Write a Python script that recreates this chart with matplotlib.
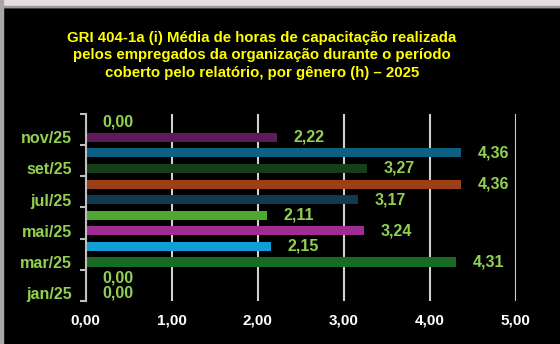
import matplotlib.pyplot as plt
from matplotlib.patches import Rectangle

plt.rcParams['font.family'] = ['Liberation Sans', 'DejaVu Sans']

meses = ['jan/25', 'fev/25', 'mar/25', 'abr/25', 'mai/25', 'jun/25',
         'jul/25', 'ago/25', 'set/25', 'out/25', 'nov/25', 'dez/25']
horas = [0.00, 0.00, 4.31, 2.15, 3.24, 2.11, 3.17, 4.36, 3.27, 4.36, 2.22, 0.00]
cores = ['#196B24', '#0F9ED5', '#196B24', '#0F9ED5', '#A02B93', '#4EA72E',
         '#113A51', '#9A3F16', '#153F1A', '#0B6083', '#5F1A5B', '#5F1A5B']
titulo = ('GRI 404-1a (i) Média de horas de capacitação realizada\n'
          'pelos empregados da organização durante o período\n'
          'coberto pelo relatório, por gênero (h) – 2025')

fig = plt.figure(figsize=(5.6, 3.44), dpi=100, facecolor='black')
ax = fig.add_axes([0.153, 0.125, 0.768, 0.544], facecolor='black')

# moldura clara no topo e à esquerda
fig.patches.append(Rectangle((0, 0.98), 1, 0.02, transform=fig.transFigure,
                             color='#E6DEDC', zorder=0))
fig.patches.append(Rectangle((0, 0.98), 1, 0.004, transform=fig.transFigure,
                             color='#9A9A9A', zorder=0))
fig.patches.append(Rectangle((0, 0), 0.006, 1, transform=fig.transFigure,
                             color='#A8A8A8', zorder=0))

y = list(range(len(meses)))
ax.barh(y, horas, height=0.58, color=cores, zorder=3)

for yi, v in zip(y, horas):
    ax.annotate(f'{v:.2f}'.replace('.', ','), (v, yi), xytext=(12, 0),
                textcoords='offset points', ha='left', va='center',
                color='#92D050', fontsize=11.5, fontweight='bold')

ax.set_xlim(0, 5)
ax.set_ylim(-0.5, len(meses) - 0.5)
ax.set_xticks([0, 1, 2, 3, 4, 5])
ax.set_xticklabels([f'{t:.2f}'.replace('.', ',') for t in range(6)],
                   color='white', fontsize=11, fontweight='bold')
ax.set_yticks(y[::2])
ax.set_yticklabels(meses[::2], color='#92D050', fontsize=11.6, fontweight='bold')
ax.set_yticks([i - 0.5 for i in range(0, len(meses) + 1, 2)], minor=True)
ax.tick_params(axis='y', which='major', length=0, pad=10)
ax.tick_params(axis='y', which='minor', length=4, width=1.5, color='#BFBFBF')
ax.tick_params(axis='x', length=0, pad=9)

ax.grid(axis='x', color='#D0D0D0', linewidth=1.5, zorder=1)
for s in ['top', 'right', 'bottom']:
    ax.spines[s].set_visible(False)
ax.spines['left'].set_color('#BFBFBF')
ax.spines['left'].set_linewidth(1.5)
ax.spines['left'].set_zorder(4)

fig.text(0.468, 0.84, titulo, ha='center', va='center', color='#FFFF00',
         fontsize=10.8, fontweight='bold', linespacing=1.32)

fig.savefig('out.png', dpi=100, facecolor='black')
